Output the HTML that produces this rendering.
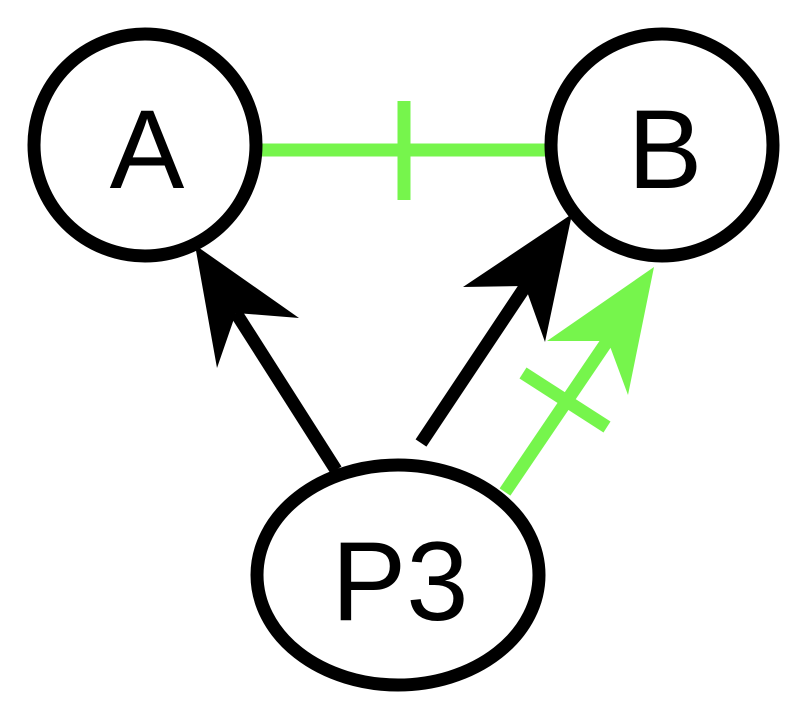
<!DOCTYPE html>
<html>
<head>
<meta charset="utf-8">
<style>
  html, body { margin: 0; padding: 0; background: #ffffff; }
  body { width: 804px; height: 722px; overflow: hidden; }
  svg { display: block; }
  text { font-family: "Liberation Sans", Arial, sans-serif; font-size: 112px; fill: #000; }
</style>
</head>
<body>
<svg width="804" height="722" viewBox="0 0 804 722" xmlns="http://www.w3.org/2000/svg">
  <rect width="804" height="722" fill="#ffffff"/>

  <!-- green undirected edge A - B with tick -->
  <line x1="262" y1="150" x2="548" y2="150" stroke="#76f54c" stroke-width="13"/>
  <line x1="404" y1="101" x2="404" y2="200" stroke="#76f54c" stroke-width="13"/>

  <!-- black arrow P3 -> A -->
  <line x1="336" y1="470" x2="236" y2="313" stroke="#000" stroke-width="13"/>
  <polygon points="195,245 299,318 236,313 217,368" fill="#000"/>

  <!-- black arrow P3 -> B -->
  <line x1="421" y1="443" x2="527" y2="284" stroke="#000" stroke-width="13"/>
  <polygon points="572,214 545,342 525,286 463,287" fill="#000"/>

  <!-- green arrow P3 -> B with tick -->
  <line x1="505" y1="492" x2="608" y2="340" stroke="#76f54c" stroke-width="13"/>
  <line x1="523" y1="373" x2="607" y2="427" stroke="#76f54c" stroke-width="13"/>
  <polygon points="654,267 628,395 608,341 547,341" fill="#76f54c"/>

  <!-- nodes -->
  <circle cx="145" cy="145" r="111" fill="none" stroke="#000" stroke-width="13"/>
  <circle cx="662" cy="145" r="111" fill="none" stroke="#000" stroke-width="13"/>
  <ellipse cx="398" cy="575" rx="141" ry="110" fill="#fff" stroke="#000" stroke-width="13"/>

  <text x="147" y="188" text-anchor="middle">A</text>
  <text x="665" y="188" text-anchor="middle">B</text>
  <text x="400" y="620" text-anchor="middle">P3</text>
</svg>
</body>
</html>
